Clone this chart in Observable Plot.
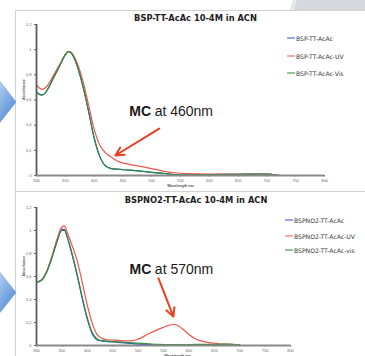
<!DOCTYPE html>
<html>
<head>
<meta charset="utf-8">
<script src="https://cdn.jsdelivr.net/npm/d3@7"></script>
<script src="https://cdn.jsdelivr.net/npm/@observablehq/plot@0.6"></script>
<style>
  html, body { margin: 0; padding: 0; background: #fff; }
  #stage { position: relative; width: 365px; height: 356px; overflow: hidden; background: #fff; font-family: Arial, "Liberation Sans", sans-serif; }
  .abs { position: absolute; }
  .title { position: absolute; font-family: "DejaVu Sans", Verdana, sans-serif; font-weight: bold; font-size: 8.3px; color: #222; white-space: nowrap; transform: translate(-50%, -50%); }
  .leg { position: absolute; font-family: "DejaVu Sans", Verdana, sans-serif; font-size: 6.1px; color: #3a3a3a; white-space: nowrap; display: flex; align-items: center; transform: translateY(-50%); }
  .leg .sw { display: inline-block; width: 8px; height: 1px; margin-right: 1px; }
  svg.plot { position: absolute; left: 0; }
</style>
</head>
<body>
<div id="stage">
  <svg class="abs" style="left:0;top:0" width="365" height="356">
    <defs>
      <linearGradient id="ag" x1="0" y1="0" x2="0.6" y2="1">
        <stop offset="0" stop-color="#bcd5f3"/>
        <stop offset="1" stop-color="#4f8bd6"/>
      </linearGradient>
    </defs>
    <polygon points="293,0 365,0 365,10 290,10" fill="#d5d8dc"/>
    <polygon points="293,0 297,0 294,10 290,10" fill="#e6e8ea"/>
    <line x1="15.5" y1="10" x2="15.5" y2="356" stroke="#d2d2d2" stroke-width="1"/>
    <line x1="15.5" y1="10.5" x2="365" y2="10.5" stroke="#d2d2d2" stroke-width="1"/>
    <line x1="15.5" y1="191.5" x2="365" y2="191.5" stroke="#d2d2d2" stroke-width="1"/>
    <polygon points="-2,79 16,102 -2,125" fill="url(#ag)" stroke="#6d9bd8" stroke-width="0.6"/>
    <polygon points="-2,270 16,292.5 -2,315" fill="url(#ag)" stroke="#6d9bd8" stroke-width="0.6"/>
  </svg>
</div>
<script>
// ---------- data ----------
const xTicks = [300, 350, 400, 450, 500, 550, 600, 650, 700, 750, 800];
const yTicks = [0, 0.2, 0.4, 0.6, 0.8, 1, 1.2];

const topTitle = "BSP-TT-AcAc 10-4M in ACN";
const topSeries = ["BSP-TT-AcAc", "BSP-TT-AcAc-UV", "BSP-TT-AcAc-Vis"];
const topWl = [300, 305, 310, 315, 320, 330, 340, 350, 355, 360, 370, 380, 390, 400, 410, 420, 430, 440, 460, 480, 500, 520, 540, 560, 600, 650, 700, 710, 720];
const topBlue = [0.665, 0.645, 0.64, 0.655, 0.69, 0.78, 0.87, 0.96, 0.985, 0.975, 0.88, 0.72, 0.52, 0.30, 0.15, 0.075, 0.055, 0.05, 0.043, 0.035, 0.025, 0.018, 0.008, 0.006, 0.008, 0.01, 0.012, 0.008, 0.002];
const topUV   = [0.72, 0.695, 0.685, 0.695, 0.72, 0.80, 0.88, 0.96, 0.985, 0.98, 0.90, 0.76, 0.57, 0.37, 0.24, 0.18, 0.145, 0.115, 0.09, 0.072, 0.055, 0.035, 0.022, 0.015, 0.012, 0.012, 0.012, 0.008, 0.003];
const topVis  = [0.665, 0.645, 0.64, 0.655, 0.69, 0.78, 0.87, 0.96, 0.985, 0.975, 0.88, 0.72, 0.52, 0.30, 0.15, 0.075, 0.055, 0.05, 0.043, 0.035, 0.025, 0.018, 0.008, 0.006, 0.008, 0.01, 0.012, 0.008, 0.002];
const topNote = ["MC", " at 460nm"];
const topNoteAt = {x: 461, y: 0.51};
const topArrow = {x1: 513, y1: 0.373, x2: 437, y2: 0.159};

const botTitle = "BSPNO2-TT-AcAc 10-4M in ACN";
const botSeries = ["BSPNO2-TT-AcAc", "BSPNO2-TT-AcAc-UV", "BSPNO2-TT-AcAc-vis"];
const botWl = [300, 310, 320, 330, 340, 350, 355, 360, 370, 380, 390, 400, 410, 420, 430, 440, 460, 480, 490, 500, 520, 540, 560, 570, 580, 590, 600, 610, 620, 640, 660, 680, 700];
const botBlue = [0.55, 0.57, 0.64, 0.76, 0.90, 1.01, 1.01, 0.95, 0.79, 0.61, 0.41, 0.23, 0.10, 0.048, 0.038, 0.034, 0.028, 0.02, 0.016, 0.012, 0.008, 0.005, 0.004, 0.004, 0.004, 0.005, 0.005, 0.005, 0.006, 0.006, 0.006, 0.006, 0.003];
const botUV   = [0.55, 0.57, 0.645, 0.77, 0.92, 1.03, 1.04, 0.99, 0.87, 0.74, 0.55, 0.35, 0.19, 0.09, 0.06, 0.05, 0.045, 0.04, 0.042, 0.055, 0.10, 0.14, 0.175, 0.185, 0.17, 0.135, 0.095, 0.065, 0.045, 0.025, 0.015, 0.01, 0.005];
const botVis  = [0.55, 0.57, 0.64, 0.76, 0.90, 1.00, 1.00, 0.95, 0.80, 0.62, 0.42, 0.24, 0.11, 0.055, 0.042, 0.038, 0.032, 0.025, 0.022, 0.02, 0.015, 0.01, 0.008, 0.008, 0.008, 0.008, 0.008, 0.009, 0.01, 0.01, 0.011, 0.012, 0.005];
const botNote = ["MC", " at 570nm"];
const botNoteAt = {x: 483, y: 0.663};
const botArrow = {x1: 540, y1: 0.585, x2: 569.5, y2: 0.252};

const colors = ["#3550d8", "#f0564e", "#2e8c3c"];
const axisTitleY = "Absorbance";
const axisTitleX = "Wavelength nm";

// ---------- helpers ----------
const commaFmt = d => String(+d.toFixed(1)).replace(".", ",");

function rows(wl, series, values) {
  const out = [];
  series.forEach((s, i) => wl.forEach((w, j) => out.push({wl: w, v: values[i][j], s})));
  return out;
}

function chart(opts) {
  const {wl, series, values, note, noteAt, arrow, width, height, mL, mR, mT, mB, xLabelDx} = opts;
  const data = rows(wl, series, values);
  const lines = series.map((s, i) =>
    Plot.line(data.filter(d => d.s === s), {x: "wl", y: "v", stroke: colors[i], strokeWidth: 1.2, curve: "monotone-x"})
  );
  return Plot.plot({
    width, height,
    marginLeft: mL, marginRight: mR, marginTop: mT, marginBottom: mB,
    x: {domain: [300, 800]},
    y: {domain: [0, 1.2]},
    style: {background: "transparent", fontFamily: "Arial, 'Liberation Sans', sans-serif", overflow: "visible"},
    marks: [
      Plot.axisY({ticks: yTicks, tickSize: 2, tickPadding: 3, fontSize: 4, tickFormat: commaFmt, label: null, stroke: "#666", fill: "#666"}),
      Plot.axisX({ticks: xTicks, tickSize: 1.5, tickPadding: 2, fontSize: 4, tickFormat: d => String(d), label: null, stroke: "#666", fill: "#666"}),
      ...lines,
      Plot.ruleY([0], {stroke: "#8a8a8a", strokeWidth: 1.8}),
      Plot.ruleX([300], {stroke: "#5a5a5a", strokeWidth: 1.8}),
      Plot.text([axisTitleY], {frameAnchor: "left", dx: -13, rotate: -90, fontSize: 3.6, fontWeight: "bold", fill: "#555"}),
      Plot.text([axisTitleX], {frameAnchor: "bottom", dx: xLabelDx, dy: 11, fontSize: 3.6, fontWeight: "bold", fill: "#555"}),
      Plot.arrow([arrow], {x1: "x1", y1: "y1", x2: "x2", y2: "y2", stroke: "#ea3f1e", strokeWidth: 2, headLength: 7, headAngle: 55}),
      Plot.text([note[0]], {x: () => noteAt.x, y: () => noteAt.y, textAnchor: "start", fontSize: 14, fontWeight: "bold", fill: "#1a1a1a"}),
      Plot.text([note[1]], {x: () => noteAt.x, y: () => noteAt.y, dx: 21.5, textAnchor: "start", fontSize: 14, fill: "#1a1a1a"})
    ]
  });
}

const stage = document.getElementById("stage");

const topPlot = chart({
  wl: topWl, series: topSeries, values: [topBlue, topUV, topVis],
  note: topNote, noteAt: topNoteAt, arrow: topArrow,
  width: 365, height: 191, mL: 36, mR: 41, mT: 24, mB: 16, xLabelDx: 0
});
topPlot.classList.add("plot");
topPlot.style.top = "0px";
stage.appendChild(topPlot);

const botPlot = chart({
  wl: botWl, series: botSeries, values: [botBlue, botUV, botVis],
  note: botNote, noteAt: botNoteAt, arrow: botArrow,
  width: 365, height: 165, mL: 36, mR: 75, mT: 16, mB: 11, xLabelDx: 14
});
botPlot.classList.add("plot");
botPlot.style.top = "191px";
stage.appendChild(botPlot);

function addTitle(text, x, y) {
  const d = document.createElement("div");
  d.className = "title";
  d.textContent = text;
  d.style.left = x + "px";
  d.style.top = y + "px";
  stage.appendChild(d);
}
addTitle(topTitle, 195.5, 18);
addTitle(botTitle, 196, 200);

function addLegend(series, x, ys) {
  series.forEach((s, i) => {
    const d = document.createElement("div");
    d.className = "leg";
    d.style.left = x + "px";
    d.style.top = ys[i] + "px";
    const sw = document.createElement("span");
    sw.className = "sw";
    sw.style.background = colors[i];
    d.appendChild(sw);
    d.appendChild(document.createTextNode(s));
    stage.appendChild(d);
  });
}
addLegend(topSeries, 287, [38, 56, 73]);
addLegend(botSeries, 285, [220, 235.5, 250]);
</script>
</body>
</html>
